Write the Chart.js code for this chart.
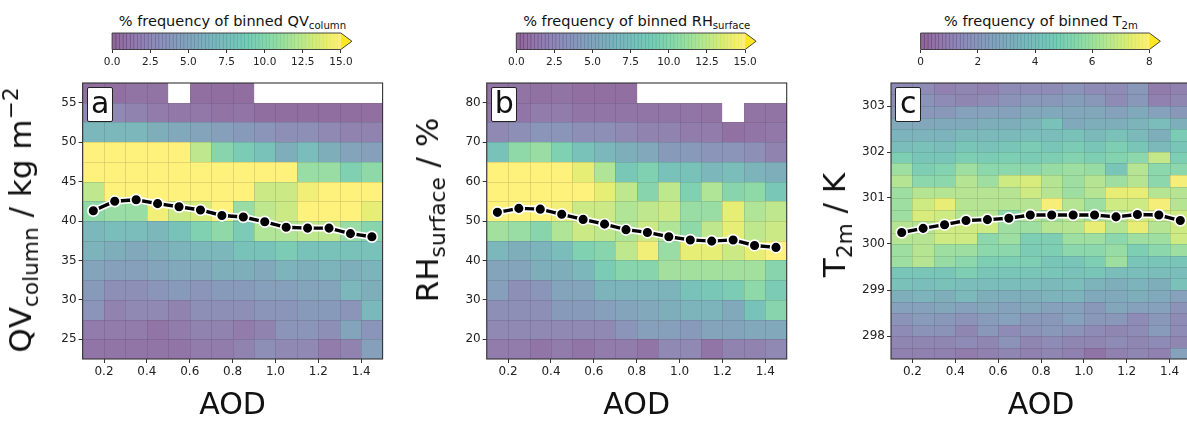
<!DOCTYPE html>
<html><head><meta charset="utf-8">
<script src="https://cdn.jsdelivr.net/npm/chart.js@4.4.0/dist/chart.umd.min.js"></script>
<style>
html,body{margin:0;padding:0;width:1187px;height:421px;overflow:hidden;background:#fff;font-family:"DejaVu Sans",sans-serif;}
canvas{position:absolute;}
.cbt{position:absolute;font-size:14.5px;line-height:14.5px;white-space:nowrap;color:#111;transform:translateX(-50%);}
.sub{font-size:0.7em;position:relative;top:0.3em;}
.sup{font-size:0.7em;position:relative;top:-0.6em;}
.ylab{position:absolute;font-size:31px;line-height:31px;white-space:nowrap;color:#111;transform:translate(-50%,-50%) rotate(-90deg);}
.tag{position:absolute;box-sizing:border-box;width:26px;height:35px;border:1.3px solid #222;border-radius:2px;background:#fff;font-size:30px;line-height:30px;text-align:center;color:#111;}
</style></head><body>

<div class="cbt" style="left:232.5px;top:13.7px">% frequency of binned QV<span class="sub">column</span></div>
<div class="cbt" style="left:636.7px;top:13.7px">% frequency of binned RH<span class="sub">surface</span></div>
<div class="cbt" style="left:1041px;top:13.7px">% frequency of binned T<span class="sub">2m</span></div>

<canvas id="cbA" width="269" height="45" style="left:92px;top:28px"></canvas>
<canvas id="cbB" width="269" height="45" style="left:496px;top:28px"></canvas>
<canvas id="cbC" width="269" height="45" style="left:900px;top:28px"></canvas>

<canvas id="pA" width="372" height="348" style="left:22px;top:73px"></canvas>
<canvas id="pB" width="372" height="348" style="left:426px;top:73px"></canvas>
<canvas id="pC" width="372" height="348" style="left:831px;top:73px"></canvas>

<div class="ylab" style="left:22.3px;top:220px">QV<span class="sub">column</span> / kg m<span class="sup">−2</span></div>
<div class="ylab" style="left:429.3px;top:210px">RH<span class="sub">surface</span> / %</div>
<div class="ylab" style="left:836.3px;top:225px">T<span class="sub">2m</span> / K</div>

<div class="tag" style="left:87.3px;top:87px">a</div>
<div class="tag" style="left:491.4px;top:87px">b</div>
<div class="tag" style="left:895.3px;top:86.5px">c</div>

<script>
// ---------------- data ----------------
const aodEdges = [0.1,0.2,0.3,0.4,0.5,0.6,0.7,0.8,0.9,1.0,1.1,1.2,1.3,1.4,1.5];
const aodMid   = [0.15,0.25,0.35,0.45,0.55,0.65,0.75,0.85,0.95,1.05,1.15,1.25,1.35,1.45];
const aodTicks = [0.2,0.4,0.6,0.8,1.0,1.2,1.4];

// panel a: QV column (rows listed top bin -> bottom bin)
const qvEdges = [57.5,55,52.5,50,47.5,45,42.5,40,37.5,35,32.5,30,27.5,25,22.5];
const qvTicks = [25,30,35,40,45,50,55];
const qvFreq = [
  [0.6,0.6,0.8,0.8,null,0.6,0.5,0.5,null,null,null,null,null,null],
  [2.5,2.5,2,1.5,1.2,1.2,0.8,1,0.5,0.5,0.5,0.5,0.5,0.6],
  [7,7,7,6,5.5,5,4.5,4,3.5,3,3,2.5,2,2],
  [15,15,15,15,15,12.5,10,9,8,6,7.5,6,5,4.5],
  [15,15,15,15,15,15,15,15,15,15,11,11,9.5,10.5],
  [12.5,15,15,15,15,15,15,15,13,13,14.5,15,15,15],
  [10.5,11,11,14.5,13,13.5,15,11,12.5,13,15,15,15,14],
  [7,7.5,7.5,7,8,9.5,10.5,9,12,12,12.5,12.5,11,10],
  [6.5,6,5.5,6,6.5,7,7,8,8,9,8,8,8,8],
  [5,4.5,4.5,5,5.5,5.5,6,6,5.5,6.5,6,6.5,6,6.5],
  [4,3,3,3.5,4,3.5,4,4,4.5,4.5,5,5,7,6],
  [3.5,2,2.5,2.5,2,3,3,3,3.5,3.5,4,4,3.5,7],
  [1.5,1.5,1.5,1,1.5,2,2,1.5,2,3.5,3.5,3,5,3.5],
  [1,1,1,1,1,1.5,1.5,2,3,2.5,2.5,1.5,2,4.5]
];
const qvMean = [41.3,42.5,42.7,42.2,41.8,41.4,40.7,40.5,39.9,39.2,39.1,39.1,38.4,38.0];
const qvCbarTicks = [0,2.5,5,7.5,10,12.5,15];

// panel b: RH surface
const rhEdges = [85,80,75,70,65,60,55,50,45,40,35,30,25,20,15];
const rhTicks = [20,30,40,50,60,70,80];
const rhFreq = [
  [0.8,0.8,0.7,0.8,0.6,0.6,0.6,null,null,null,null,null,null,null],
  [1,1,1.5,1.5,1,1,1,1,1,1,0.8,null,0.8,0.8],
  [2.5,3,3.5,3.5,3,3,2.5,2,2,1.5,1.5,0.7,1,1.2],
  [8,10.5,11,9.5,8,7,6,5.5,4,4,3.5,3.5,3,2],
  [15,15,15,15,14,12,8.5,9.5,8,8,7,7.5,6.5,6],
  [15,15,15,15,15,14,12.5,10,12.5,9.5,12,10,10.5,8.5],
  [15,15,15,14.5,13,13,12,12.5,13,11,11,14,12,12.5],
  [11.5,11,10,12,13,12.5,12,13,12,10.5,12.5,14,12.5,13],
  [7,6,6.5,7.5,9.5,10,12.5,14.5,11,14,14,13,14,15],
  [5,5,6,6,7,9,10,10,11.5,11.5,11.5,11.5,11.5,10],
  [4.5,3,3.5,5,5,6.5,6.5,6.5,6.5,8,8.5,9,10.5,9],
  [3,3,3,4,4,4.5,5,5.5,6,6.5,6.5,5.5,8,10],
  [2.5,2.5,2.5,2.5,2.5,2.5,3.5,4.5,4.5,4,5,5,5.5,5.5],
  [1.5,1.5,1,1.5,1,1.5,1.5,1,2.5,2.5,1,2,2,2.5]
];
const rhMean = [52.2,53.2,53.0,51.7,50.4,49.2,47.8,47.1,46.0,45.2,44.9,45.2,43.8,43.3];
const rhCbarTicks = [0,2.5,5,7.5,10,12.5,15];

// panel c: T 2m
const tEdges = [303.5,303.25,303,302.75,302.5,302.25,302,301.75,301.5,301.25,301,300.75,300.5,300.25,300,299.75,299.5,299.25,299,298.75,298.5,298.25,298,297.75,297.5];
const tTicks = [298,299,300,301,302,303];
const tFreq = [
  [1.5,1.5,1,1.2,1,1.5,1.5,1.5,1.8,1.5,1.5,2,0.8,1],
  [1.5,1.8,1.5,1.2,1.5,1.8,2,2,2.3,2,1.5,2,1,1.2],
  [2,2,2,2.5,2.5,2.5,2.8,3,2.8,2.8,2.5,3,2.5,2],
  [3,2.8,3,3,3.2,3.2,3.5,4.2,3,3.2,3.2,3.5,4,3.2],
  [3.5,3.5,3.5,3.8,3.8,3.8,4,4,4.2,3.8,4.2,3.8,3.2,4.8],
  [4,4.2,4,4.5,4.2,4.5,4.8,4.5,4.8,4.5,5,4.5,3.8,4.5],
  [5,4.5,4.5,5,4.8,5,4.8,5,5.2,5,5.2,5.5,6.8,5],
  [6,5,5.2,6,5.5,5.5,5.5,5.8,6,5.8,4.5,6.5,5.5,5.5],
  [6.5,5.5,5.5,6.5,6,7,7.2,6.5,6,6.5,6,6.5,5.5,7.8],
  [6,6.5,6.5,6.5,6.5,6.5,7,6.5,6,6.5,7.5,7.5,6.5,6.5],
  [6,7,7.5,6.5,6.5,6.5,6.5,7.8,6.5,6,7,7,7.8,6.5],
  [6,7.2,7,6.5,6.5,5.5,6.5,6,6.5,6,6.5,7,7,7],
  [6.5,6.5,7,7,7,6,6,6.5,6.5,7.5,6.5,7.5,6.5,7],
  [6.5,6.5,7,7,5.5,6,5,5,6,6,5.5,6,6,7],
  [6,6.5,6,6,5.5,5.5,4.8,5,5.5,5.5,5.8,5,5.5,6],
  [6,6.5,5.8,5.5,5,5,5,4.5,4.5,5,6,4.5,4.5,4.5],
  [4.5,4.5,4.5,5,4.5,4.5,4.5,4.5,4.2,4.5,4,4,4,4],
  [4.2,4,4.2,4,4,4,4,3.8,4,3.5,3.2,3.5,3.2,4.2],
  [3.2,3.5,3.2,3.8,3.2,3.2,3.2,3.5,3.5,3,3,3.2,3,2.5],
  [2.5,2.5,2.8,2.5,2.8,2.5,2.8,2.5,2.5,2,2.8,2.5,2.5,1.8],
  [1.8,2.2,2,1.8,2.2,2.5,2,2,2.5,2,2,1.5,2,1.5],
  [1.5,1.8,1.8,1.2,2,1.5,1.8,2,1.8,1.5,1.2,1.5,2.2,1.5],
  [1.2,1.2,1.2,1.5,1.2,1.8,1.2,1.5,1.2,1.2,1.5,1.2,1.5,1.2],
  [1,1,1,0.8,1,1.2,1,1.2,1,0.5,1,1.2,1,2.5]
];
const tMean = [300.25,300.34,300.42,300.51,300.53,300.56,300.63,300.63,300.63,300.63,300.59,300.64,300.63,300.51];
const tCbarTicks = [0,2,4,6,8];

// ---------------- colour map ----------------
const VIR = [[68,1,84],[72,24,106],[71,45,123],[66,64,134],[59,82,139],[51,99,141],[44,114,142],[38,130,142],[33,145,140],[31,160,136],[40,174,128],[63,188,115],[94,201,98],[132,212,75],[173,220,48],[216,226,25],[253,231,37]];
function viridis(t){
  t = Math.max(0, Math.min(1, t));
  const p = t*(VIR.length-1), i = Math.min(VIR.length-2, Math.floor(p)), f = p-i;
  return VIR[i].map((c,k)=>Math.round(c+(VIR[i+1][k]-c)*f));
}
function rgba(t, a){ const c = viridis(t); return `rgba(${c[0]},${c[1]},${c[2]},${a})`; }
const ALPHA = 0.6;

Chart.defaults.font.family = "'DejaVu Sans', sans-serif";
Chart.defaults.color = '#222';

function heatPlugin(xEdges, yEdges, freq, vmax){
  return {
    id:'heat',
    beforeDatasetsDraw(chart){
      const {ctx, chartArea:a, scales:{x, y}} = chart;
      ctx.save();
      ctx.beginPath(); ctx.rect(a.left, a.top, a.right-a.left, a.bottom-a.top); ctx.clip();
      for (let i=0;i<freq.length;i++){
        for (let j=0;j<freq[i].length;j++){
          const v = freq[i][j];
          if (v === null) continue;
          const x0 = Math.round(x.getPixelForValue(xEdges[j])), x1 = Math.round(x.getPixelForValue(xEdges[j+1]));
          const y0 = Math.round(y.getPixelForValue(yEdges[i])), y1 = Math.round(y.getPixelForValue(yEdges[i+1]));
          ctx.fillStyle = rgba(v/vmax, ALPHA);
          ctx.fillRect(x0, y0, x1-x0, y1-y0);
          ctx.strokeStyle = 'rgba(90,90,90,0.13)';
          ctx.lineWidth = 1;
          ctx.strokeRect(x0+0.5, y0+0.5, x1-x0, y1-y0);
        }
      }
      ctx.restore();
    },
    afterDatasetsDraw(chart){
      const {ctx, chartArea:a} = chart;
      ctx.save();
      ctx.strokeStyle = '#333'; ctx.lineWidth = 1.1;
      ctx.strokeRect(a.left, a.top, a.right-a.left, a.bottom-a.top);
      ctx.restore();
    }
  };
}

function makePanel(id, yW, xEdges, yEdges, freq, vmax, yTicks, yFmt, means){
  const el = document.getElementById(id);
  const W = el.width, H = el.height;
  const pts = aodMid.map((v,i)=>({x:v, y:means[i]}));
  const yMin = Math.min(yEdges[0], yEdges[yEdges.length-1]);
  const yMax = Math.max(yEdges[0], yEdges[yEdges.length-1]);
  new Chart(el, {
    type:'line',
    data:{datasets:[
      {data:pts, borderColor:'#000', borderWidth:3.4, pointRadius:5.4, pointBackgroundColor:'#000', pointBorderColor:'#fff', pointBorderWidth:1.7, tension:0, order:0},
      {data:pts, borderColor:'#fff', borderWidth:6.8, pointRadius:0, tension:0, order:1}
    ]},
    options:{
      responsive:false, animation:false, events:[],
      layout:{padding:{top:10, right: W - yW - 300, left:0, bottom:0}},
      plugins:{legend:{display:false}, tooltip:{enabled:false}},
      scales:{
        x:{type:'linear', min:xEdges[0], max:xEdges[xEdges.length-1],
           afterBuildTicks:s=>{ s.ticks = aodTicks.map(v=>({value:v})); },
           afterFit:s=>{ s.height = H - 10 - 276; },
           grid:{display:true, drawOnChartArea:false, tickLength:4, color:'#333', tickWidth:1},
           border:{display:false},
           ticks:{font:{size:12}, color:'#222', padding:2, maxRotation:0, autoSkip:false, callback:v=>Number(v).toFixed(1)},
           title:{display:true, text:'AOD', font:{size:30, lineHeight:1}, color:'#111', padding:0}},
        y:{type:'linear', min:yMin, max:yMax,
           afterBuildTicks:s=>{ s.ticks = yTicks.map(v=>({value:v})); },
           afterFit:s=>{ s.width = yW; },
           grid:{display:true, drawOnChartArea:false, tickLength:4, color:'#333', tickWidth:1},
           border:{display:false},
           ticks:{font:{size:12}, color:'#222', padding:2, autoSkip:false, callback:yFmt}}
      }
    },
    plugins:[heatPlugin(xEdges, yEdges, freq, vmax)]
  });
}

function cbarPlugin(vmax){
  return {
    id:'cbar',
    beforeDatasetsDraw(chart){
      const {ctx, chartArea:a, scales:{x}} = chart;
      ctx.save();
      const N = 64;
      for (let k=0;k<N;k++){
        const v0 = vmax*k/N, v1 = vmax*(k+1)/N;
        const x0 = x.getPixelForValue(v0), x1 = x.getPixelForValue(v1);
        ctx.fillStyle = rgba((k+0.5)/N, ALPHA);
        ctx.fillRect(x0, a.top, x1-x0+0.6, a.bottom-a.top);
      }
      const xr = x.getPixelForValue(vmax), mid = (a.top+a.bottom)/2;
      ctx.beginPath(); ctx.moveTo(xr, a.top); ctx.lineTo(xr+11, mid); ctx.lineTo(xr, a.bottom); ctx.closePath();
      ctx.fillStyle = rgba(1, 1); ctx.fill();
      ctx.beginPath();
      ctx.moveTo(a.left, a.top); ctx.lineTo(xr, a.top); ctx.lineTo(xr+11, mid); ctx.lineTo(xr, a.bottom); ctx.lineTo(a.left, a.bottom); ctx.closePath();
      ctx.strokeStyle = '#333'; ctx.lineWidth = 0.9; ctx.stroke();
      ctx.restore();
    }
  };
}

function makeCbar(id, cbLeft, vmax, ticks, fmt){
  const el = document.getElementById(id);
  const canvasLeft = parseFloat(el.style.left);
  const padL = cbLeft - canvasLeft;
  const W = el.width, H = el.height;
  new Chart(el, {
    type:'scatter',
    data:{datasets:[{data:[]}]},
    options:{
      responsive:false, animation:false, events:[],
      layout:{padding:{top:5, left:padL, right: W - padL - 228.8, bottom:0}},
      plugins:{legend:{display:false}, tooltip:{enabled:false}},
      scales:{
        x:{type:'linear', min:0, max:vmax,
           afterBuildTicks:s=>{ s.ticks = ticks.map(v=>({value:v})); },
           afterFit:s=>{ s.height = H - 5 - 16.5; },
           grid:{display:true, drawOnChartArea:false, tickLength:3.5, color:'#333', tickWidth:1},
           border:{display:false},
           ticks:{font:{size:10.5}, color:'#222', padding:2.5, maxRotation:0, autoSkip:false, callback:fmt}},
        y:{display:false, min:0, max:1}
      }
    },
    plugins:[cbarPlugin(vmax)]
  });
}

makeCbar('cbA', 112.1, 15, qvCbarTicks, v=>Number(v).toFixed(1));
makeCbar('cbB', 516.3, 15, rhCbarTicks, v=>Number(v).toFixed(1));
makeCbar('cbC', 920.6, 8, tCbarTicks, v=>String(Math.round(v)));

makePanel('pA', 60.6, aodEdges, qvEdges, qvFreq, 15, qvTicks, v=>String(v), qvMean);
makePanel('pB', 60.7, aodEdges, rhEdges, rhFreq, 15, rhTicks, v=>String(v), rhMean);
makePanel('pC', 60, aodEdges, tEdges, tFreq, 8, tTicks, v=>String(v), tMean);
</script>
</body></html>
